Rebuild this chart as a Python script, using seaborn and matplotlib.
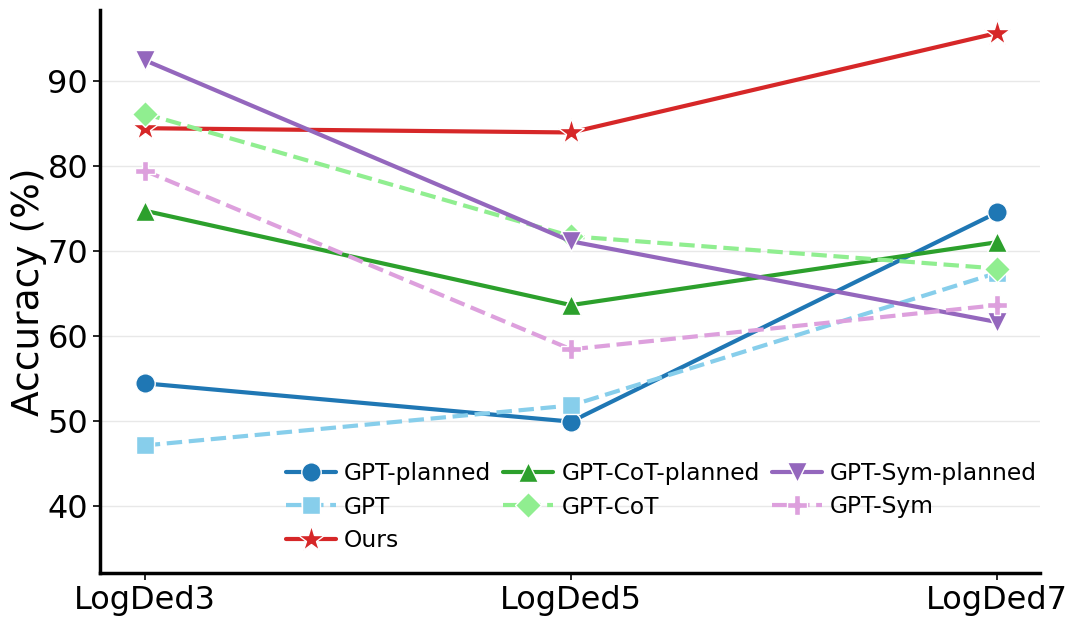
import numpy as np
import pandas as pd
import matplotlib
matplotlib.use("Agg")
import matplotlib.pyplot as plt
import seaborn as sns

tasks = ["LogDed3", "LogDed5", "LogDed7"]

gpt_planned = [54.4, 49.9, 74.5]
gpt = [47.1, 51.8, 67.4]
gpt_cot_planned = [74.7, 63.6, 71.0]
gpt_cot = [86.1, 71.7, 67.9]
gpt_sym_planned = [92.4, 71.1, 61.6]
gpt_sym = [79.4, 58.4, 63.6]
ours = [84.4, 83.9, 95.6]

series = [
    ("GPT-planned", gpt_planned, "#1f77b4", "-", "o", 14),
    ("GPT", gpt, "#87CEEB", "--", "s", 13),
    ("Ours", ours, "#d62728", "-", "*", 20),
    ("GPT-CoT-planned", gpt_cot_planned, "#2ca02c", "-", "^", 14),
    ("GPT-CoT", gpt_cot, "#90EE90", "--", "D", 13),
    ("GPT-Sym-planned", gpt_sym_planned, "#9467bd", "-", "v", 14),
    ("GPT-Sym", gpt_sym, "#DDA0DD", "--", "P", 14),
]

sns.set_theme(style="white")
plt.rcParams["font.family"] = ["DejaVu Sans"]
plt.rcParams["text.color"] = "black"
plt.rcParams["axes.labelcolor"] = "black"
plt.rcParams["xtick.color"] = "black"
plt.rcParams["ytick.color"] = "black"

fig, ax = plt.subplots(figsize=(10.79, 6.27), dpi=100)
fig.subplots_adjust(left=100 / 1079, right=1040 / 1079, top=1 - 10 / 627, bottom=1 - 573 / 627)

x = np.arange(len(tasks))
for name, vals, color, ls, mk, ms in series:
    df = pd.DataFrame({"x": x, "y": vals})
    sns.lineplot(data=df, x="x", y="y", ax=ax, color=color, linestyle=ls,
                 linewidth=3, marker=mk, markersize=ms, markeredgecolor="white",
                 markeredgewidth=1, label=name)

ax.set_xticks(x)
ax.set_xticklabels(tasks)
ax.set_xlim(-0.105, 2.1)
ax.set_ylim(32.1, 98.3)
ax.set_yticks([40, 50, 60, 70, 80, 90])
ax.set_xlabel("")
ax.set_ylabel("Accuracy (%)", fontsize=27, labelpad=0)
ax.tick_params(axis="both", labelsize=23, length=5, width=1.2, color="black", bottom=True, left=True)
ax.yaxis.grid(True, color="#e8e8e8", linewidth=1)
ax.set_axisbelow(True)
sns.despine(ax=ax)
for s in ["left", "bottom"]:
    ax.spines[s].set_color("black")
    ax.spines[s].set_linewidth(2.5)

ax.legend(ncol=3, loc="lower right", frameon=False, fontsize=16.8,
          handlelength=2.15, columnspacing=0.5, handletextpad=0.35, labelspacing=0.45,
          bbox_to_anchor=(1.019, 0.0))

fig.savefig("out.png", dpi=100)
